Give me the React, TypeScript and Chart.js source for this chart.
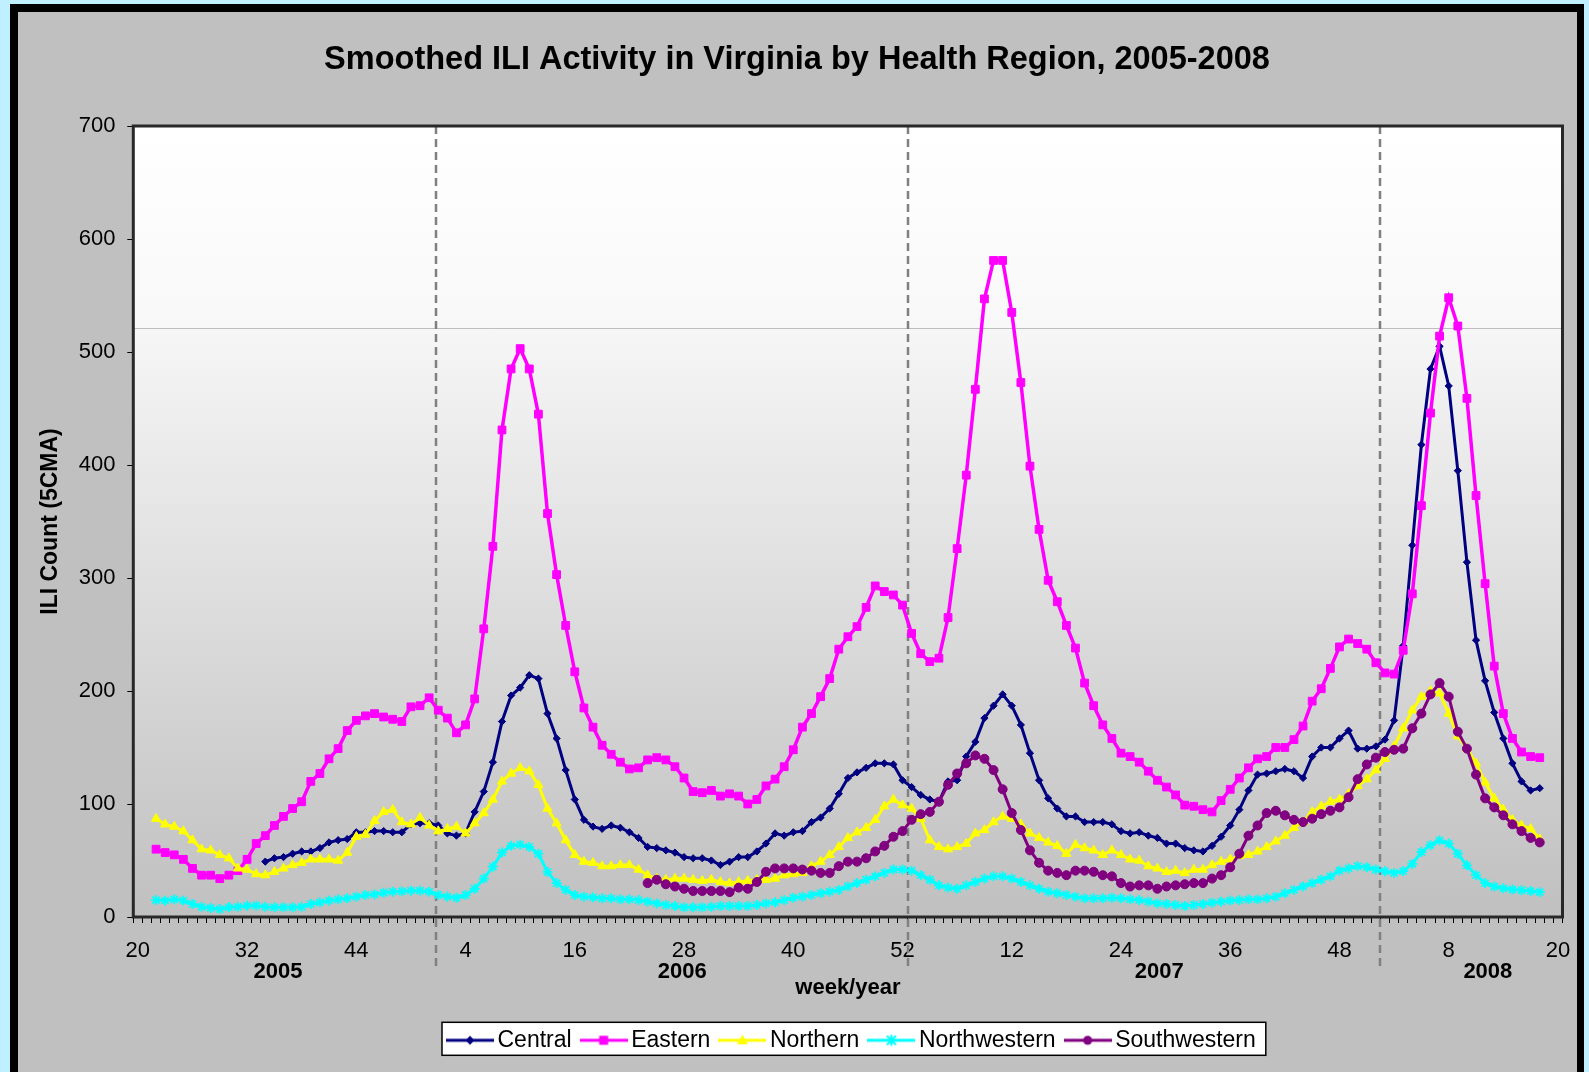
import React, { useEffect, useRef } from 'react';
import { Chart, registerables } from 'chart.js';

Chart.register(...registerables);

const FONT = '"Liberation Sans", Arial, Helvetica, sans-serif';

// ---------------- data ----------------
const weekCount = 157; // 2005 week 20 ... 2008 week 20
const xTickLabels = ['20', '32', '44', '4', '16', '28', '40', '52', '12', '24', '36', '48', '8', '20'];
const xTickStep = 12;
const yearLabels = ['2005', '2006', '2007', '2008'];
const yearLabelPos = [15.4, 59.8, 112.2, 148.3];
const yearBoundaryPos = [32.8, 84.65, 136.4];
const gradientBreakValue = 521;

const seriesNames = ['Central', 'Eastern', 'Northern', 'Northwestern', 'Southwestern'];
const seriesColors = ['#000080', '#FF00FF', '#FFFF00', '#00FFFF', '#800080'];

const centralStart = 14;
const central = [
  49, 52, 53, 56, 58, 58, 61, 66, 68, 69,
  75, 75, 76, 76, 75, 75, 82, 83, 83, 81,
  74, 72, 74, 93, 111, 137, 173, 196, 203, 214,
  211, 180, 158, 130, 104, 86, 80, 78, 81, 79,
  75, 70, 62, 61, 59, 57, 53, 52, 52, 50,
  46, 49, 53, 53, 58, 65, 74, 72, 75, 76,
  84, 88, 96, 109, 123, 128, 132, 136, 136, 135,
  121, 115, 108, 104, 102, 120, 121, 142, 155, 176,
  187, 197, 187, 170, 145, 121, 105, 96, 89, 89,
  84, 84, 84, 82, 76, 74, 75, 72, 70, 65,
  65, 61, 59, 58, 63, 71, 81, 95, 112, 126,
  127, 129, 131, 129, 123, 142, 150, 150, 158, 165,
  149, 149, 151, 157, 174, 240, 329, 418, 485, 505,
  470, 395, 314, 245, 209, 181, 158, 136, 120, 112,
  114,
];

const easternStart = 2;
const eastern = [
  60, 57, 55, 51, 43, 37, 37, 34, 37, 41,
  51, 65, 72, 81, 89, 96, 102, 120, 127, 140,
  149, 165, 174, 178, 180, 177, 175, 173, 186, 187,
  194, 183, 176, 163, 170, 193, 255, 328, 431, 485,
  503, 485, 445, 357, 303, 258, 217, 185, 168, 152,
  144, 137, 131, 132, 139, 141, 139, 133, 123, 111,
  110, 112, 107, 109, 107, 100, 104, 116, 122, 133,
  148, 168, 180, 195, 211, 237, 248, 257, 274, 293,
  288, 285, 276, 251, 233, 226, 229, 265, 326, 391,
  467, 547, 581, 581, 535, 473, 399, 343, 298, 279,
  258, 238, 207, 187, 170, 158, 145, 142, 137, 129,
  121, 115, 108, 99, 98, 95, 93, 103, 113, 123,
  132, 140, 142, 150, 150, 157, 169, 191, 202, 220,
  239, 246, 242, 237, 225, 216, 215, 236, 286, 364,
  446, 514, 548, 523, 459, 373, 295, 222, 180, 158,
  146, 142, 141,
];

const northernStart = 2;
const northern = [
  87, 82, 80, 76, 68, 60, 59, 55, 52, 43,
  42, 38, 37, 40, 43, 46, 48, 51, 51, 51,
  50, 57, 71, 73, 85, 93, 95, 84, 82, 88,
  81, 76, 78, 80, 74, 83, 92, 104, 120, 127,
  132, 129, 117, 96, 83, 68, 55, 49, 48, 45,
  45, 46, 46, 42, 37, 34, 33, 34, 34, 33,
  32, 33, 31, 30, 31, 32, 33, 33, 34, 37,
  38, 39, 45, 49, 55, 62, 70, 75, 79, 86,
  98, 104, 99, 96, 87, 68, 62, 60, 62, 65,
  74, 77, 84, 89, 87, 82, 74, 70, 66, 63,
  56, 64, 61, 59, 55, 59, 55, 51, 50, 45,
  43, 40, 41, 39, 42, 42, 46, 49, 51, 54,
  55, 58, 62, 67, 72, 79, 84, 93, 98, 102,
  104, 109, 116, 122, 130, 140, 151, 167, 183, 195,
  200, 198, 180, 160, 149, 136, 119, 105, 95, 86,
  81, 78, 69,
];

const northwesternStart = 2;
const northwestern = [
  15, 14.5, 15.6, 14.5, 11.5, 9, 8, 7, 8.6, 9,
  10, 10, 9, 8.6, 8.6, 8.6, 9, 11.5, 13, 14.5,
  15.6, 16.5, 18, 19.5, 20, 21.5, 22.4, 22.7, 23.3, 23.3,
  22.4, 19.5, 18, 17, 19.5, 25, 34, 44.5, 57, 63,
  64, 62, 56, 40, 30, 24, 19.5, 18, 17.4, 16.5,
  16.5, 15.6, 15.6, 15, 13.6, 12, 10.6, 9.7, 8.6, 8.6,
  8.6, 9, 9.7, 9.7, 9.7, 9.7, 10.6, 12, 13, 15,
  17, 18, 19.5, 21, 22.4, 24, 27, 30, 33, 36,
  39, 42, 42, 41, 37, 33, 28, 26, 25, 28,
  31, 34, 36, 36, 34, 31, 28, 25, 22.4, 21,
  19.5, 18, 16.5, 16.5, 16.5, 17, 16.5, 15.6, 15, 13.6,
  12, 11.5, 10.6, 9.7, 10.6, 11.5, 12.7, 13.6, 14.5, 15,
  15.6, 15.6, 16.5, 18, 21, 24, 27, 30, 33, 36,
  41, 43, 45, 44, 42, 40.5, 39, 40.6, 47, 57.5,
  63.6, 67.7, 65, 56, 45.7, 37, 30, 27, 25.4, 24.3,
  23.7, 23, 22,
];

const southwesternStart = 56;
const southwestern = [
  30, 33, 29, 27, 25, 23, 23, 23, 23, 22,
  26, 25, 31, 40, 43, 43, 43, 42, 41, 39,
  39, 45, 49, 49, 52, 58, 63, 71, 76, 86,
  91, 93, 102, 117, 127, 136, 143, 140, 130, 113,
  92, 77, 59, 48, 41, 39, 37, 41, 41, 40,
  37, 36, 30, 27, 28, 28, 25, 27, 28, 29,
  30, 30, 34, 37, 44, 56, 72, 81, 92, 94,
  90, 86, 84, 87, 91, 94, 97, 106, 122, 135,
  141, 146, 148, 149, 167, 180, 197, 207, 195, 164,
  149, 126, 105, 97, 90, 82, 76, 70, 66,
];

// ---------------- helpers ----------------
const toPoints = (start: number, vals: number[]) => vals.map((v, k) => ({ x: start + k, y: v }));
const legendShift = 7;

function makeLegendImage(color: string, marker: string): HTMLCanvasElement {
  const c = document.createElement('canvas');
  c.width = 48;
  c.height = 16;
  const g = c.getContext('2d') as CanvasRenderingContext2D;
  g.strokeStyle = color;
  g.fillStyle = color;
  g.lineWidth = 3;
  g.beginPath();
  g.moveTo(0, 8);
  g.lineTo(48, 8);
  g.stroke();
  const cx = 24;
  const cy = 8;
  g.beginPath();
  if (marker === 'diamond') {
    g.moveTo(cx - 4.5, cy); g.lineTo(cx, cy - 4.5); g.lineTo(cx + 4.5, cy); g.lineTo(cx, cy + 4.5); g.closePath(); g.fill();
  } else if (marker === 'square') {
    g.rect(cx - 4.5, cy - 4.5, 9, 9); g.fill();
  } else if (marker === 'triangle') {
    g.moveTo(cx, cy - 5.5); g.lineTo(cx + 5.5, cy + 4); g.lineTo(cx - 5.5, cy + 4); g.closePath(); g.fill();
  } else if (marker === 'star') {
    g.lineWidth = 2;
    g.moveTo(cx - 4.5, cy - 4.5); g.lineTo(cx + 4.5, cy + 4.5);
    g.moveTo(cx + 4.5, cy - 4.5); g.lineTo(cx - 4.5, cy + 4.5);
    g.moveTo(cx, cy - 5.5); g.lineTo(cx, cy + 5.5);
    g.stroke();
  } else {
    g.arc(cx, cy, 4.5, 0, Math.PI * 2); g.fill();
  }
  return c;
}

const decorPlugin = {
  id: 'decor',
  afterLayout(chart: any) {
    const lg = chart.legend;
    const a = chart.chartArea;
    if (lg && a) {
      lg.left = a.left + legendShift;
      lg.right = a.right + legendShift;
    }
    const tb = chart.titleBlock;
    if (tb) {
      tb.left = 0;
      tb.right = chart.width - 1;
    }
  },
  beforeDraw(chart: any) {
    const { ctx, chartArea: a, scales } = chart;
    const yb = scales.y.getPixelForValue(gradientBreakValue);
    const f = (yb - a.top) / (a.bottom - a.top);
    const grad = ctx.createLinearGradient(0, a.top, 0, a.bottom);
    grad.addColorStop(0, '#FFFFFF');
    grad.addColorStop(f, '#F8F8F8');
    grad.addColorStop(Math.min(1, f + 0.002), '#F6F6F6');
    grad.addColorStop(1, '#C0C0C0');
    ctx.save();
    ctx.fillStyle = grad;
    ctx.fillRect(a.left, a.top, a.right - a.left, a.bottom - a.top);
    ctx.strokeStyle = '#BDBDBD';
    ctx.lineWidth = 1;
    ctx.beginPath();
    ctx.moveTo(a.left, Math.round(yb) + 0.5);
    ctx.lineTo(a.right, Math.round(yb) + 0.5);
    ctx.stroke();

    const lg = chart.legend;
    if (lg && lg.legendHitBoxes && lg.legendHitBoxes.length) {
      const hb = lg.legendHitBoxes;
      const first = hb[0];
      const last = hb[hb.length - 1];
      const cy = first.top + first.height / 2;
      const x0 = first.left - 12;
      const x1 = last.left + last.width + 10;
      ctx.fillStyle = '#FFFFFF';
      ctx.fillRect(x0, cy - 18, x1 - x0, 33);
      ctx.strokeStyle = '#000000';
      ctx.lineWidth = 1.5;
      ctx.strokeRect(x0, cy - 18, x1 - x0, 33);
    }
    ctx.restore();
  },
  beforeDatasetsDraw(chart: any) {
    const { ctx, chartArea: a, scales } = chart;
    ctx.save();
    ctx.strokeStyle = '#808080';
    ctx.lineWidth = 2.5;
    ctx.setLineDash([8, 5]);
    for (const v of yearBoundaryPos) {
      const px = Math.round(scales.x.getPixelForValue(v));
      ctx.beginPath();
      ctx.moveTo(px, a.top);
      ctx.lineTo(px, a.bottom + 53);
      ctx.stroke();
    }
    ctx.restore();
  },
  afterDatasetsDraw(chart: any) {
    const { ctx, chartArea: a } = chart;
    ctx.save();
    ctx.strokeStyle = '#282828';
    ctx.lineWidth = 3;
    ctx.strokeRect(a.left, a.top, a.right - a.left, a.bottom - a.top);
    ctx.restore();
  },
};

export default function App() {
  const ref = useRef<HTMLCanvasElement>(null);

  useEffect(() => {
    const canvas = ref.current;
    if (!canvas) return;
    Chart.defaults.font.family = FONT;
    Chart.defaults.color = '#000';

    const markers = ['diamond', 'square', 'triangle', 'star', 'circle'];
    const legendImages = seriesColors.map((c, i) => makeLegendImage(c, markers[i]));

    const common = (i: number) => ({
      label: seriesNames[i],
      borderColor: seriesColors[i],
      backgroundColor: seriesColors[i],
      pointBackgroundColor: seriesColors[i],
      pointBorderColor: seriesColors[i],
      borderWidth: 3,
      tension: 0,
      fill: false,
      xAxisID: 'x',
      yAxisID: 'y',
      order: 5 - i,
    });

    const datasets = [
      { ...common(0), data: toPoints(centralStart, central), pointStyle: 'rectRot', pointRadius: 3.6, pointBorderWidth: 1 },
      { ...common(1), data: toPoints(easternStart, eastern), pointStyle: 'rect', pointRadius: 5.5, pointBorderWidth: 1, borderWidth: 3.5 },
      { ...common(2), data: toPoints(northernStart, northern), pointStyle: 'triangle', pointRadius: 5.3, pointBorderWidth: 1 },
      { ...common(3), data: toPoints(northwesternStart, northwestern), pointStyle: 'star', pointRadius: 5, pointBorderWidth: 1.8 },
      { ...common(4), data: toPoints(southwesternStart, southwestern), pointStyle: 'circle', pointRadius: 4.5, pointBorderWidth: 1 },
    ];

    const chart = new Chart(canvas, {
      type: 'line',
      data: { datasets },
      plugins: [decorPlugin],
      options: {
        responsive: false,
        animation: false,
        devicePixelRatio: 1,
        events: [],
        layout: { padding: { left: 0, top: 0, right: 11.7, bottom: 10.2 } },
        plugins: {
          title: {
            display: true,
            text: 'Smoothed ILI Activity in Virginia by Health Region, 2005-2008',
            color: '#000',
            font: { family: FONT, size: 32.5, weight: 'bold' },
            padding: { top: 28.4, bottom: 46.6 },
          },
          legend: {
            position: 'bottom',
            fullSize: false,
            labels: {
              usePointStyle: true,
              pointStyleWidth: 32,
              padding: 16,
              color: '#000',
              font: { family: FONT, size: 23 },
              generateLabels: (ch: any) =>
                ch.data.datasets.map((ds: any, i: number) => ({
                  text: ds.label,
                  pointStyle: legendImages[i],
                  datasetIndex: i,
                  fillStyle: seriesColors[i],
                  strokeStyle: seriesColors[i],
                  lineWidth: 0,
                  hidden: false,
                  fontColor: '#000',
                })),
            },
          },
          tooltip: { enabled: false },
        },
        scales: {
          x: {
            type: 'linear',
            position: 'bottom',
            min: -0.5,
            max: weekCount - 0.5,
            afterBuildTicks: (s: any) => {
              const t = [];
              for (let v = -0.5; v <= weekCount - 0.5 + 1e-9; v += 0.5) t.push({ value: v });
              s.ticks = t;
            },
            afterFit: (s: any) => { s.height = 40; },
            grid: {
              drawOnChartArea: false,
              drawTicks: true,
              tickLength: 6,
              lineWidth: 1,
              tickColor: (c: any) => (c.tick && Number.isInteger(c.tick.value) ? 'rgba(0,0,0,0)' : '#000'),
            },
            border: { display: false },
            ticks: {
              autoSkip: false,
              maxRotation: 0,
              minRotation: 0,
              padding: 14.5,
              color: '#000',
              font: { family: FONT, size: 22 },
              callback: (v: any) => {
                const n = Number(v);
                if (Number.isInteger(n) && n % xTickStep === 0) return xTickLabels[n / xTickStep] ?? '';
                return '';
              },
            },
          },
          xYear: {
            type: 'linear',
            position: 'bottom',
            weight: 1,
            min: -0.5,
            max: weekCount - 0.5,
            afterBuildTicks: (s: any) => { s.ticks = yearLabelPos.map((v) => ({ value: v })); },
            afterFit: (s: any) => { s.height = 55.8; },
            grid: { display: false, drawTicks: false, drawOnChartArea: false },
            border: { display: false },
            ticks: {
              autoSkip: false,
              maxRotation: 0,
              minRotation: 0,
              padding: 2.2,
              color: '#000',
              font: { family: FONT, size: 22, weight: 'bold' },
              callback: (_v: any, i: number) => yearLabels[i] ?? '',
            },
            title: {
              display: true,
              text: 'week/year',
              color: '#000',
              font: { family: FONT, size: 22, weight: 'bold' },
              padding: { top: 0, bottom: 11.6 },
            },
          },
          y: {
            type: 'linear',
            min: 0,
            max: 700,
            afterFit: (s: any) => { s.width = 115.3; },
            grid: { drawOnChartArea: false, drawTicks: true, tickLength: 6, tickColor: '#000', lineWidth: 1 },
            border: { display: false },
            ticks: { stepSize: 100, padding: 11.8, color: '#000', font: { family: FONT, size: 22 } },
            title: {
              display: true,
              text: 'ILI Count (5CMA)',
              color: '#000',
              font: { family: FONT, size: 23, weight: 'bold' },
              padding: { top: 18.4, bottom: 0 },
            },
          },
        },
      } as any,
    } as any);

    return () => chart.destroy();
  }, []);

  return (
    <div style={{ position: 'fixed', left: 0, top: 0, width: 1589, height: 1072, background: '#C0F0FF', overflow: 'hidden' }}>
      <div style={{ position: 'absolute', left: 10, top: 4, width: 1574, height: 1100, background: '#000' }} />
      <div style={{ position: 'absolute', left: 18, top: 12, width: 1559, height: 1060, background: '#C0C0C0' }}>
        <canvas ref={ref} width={1559} height={1060} style={{ display: 'block' }} />
      </div>
    </div>
  );
}
